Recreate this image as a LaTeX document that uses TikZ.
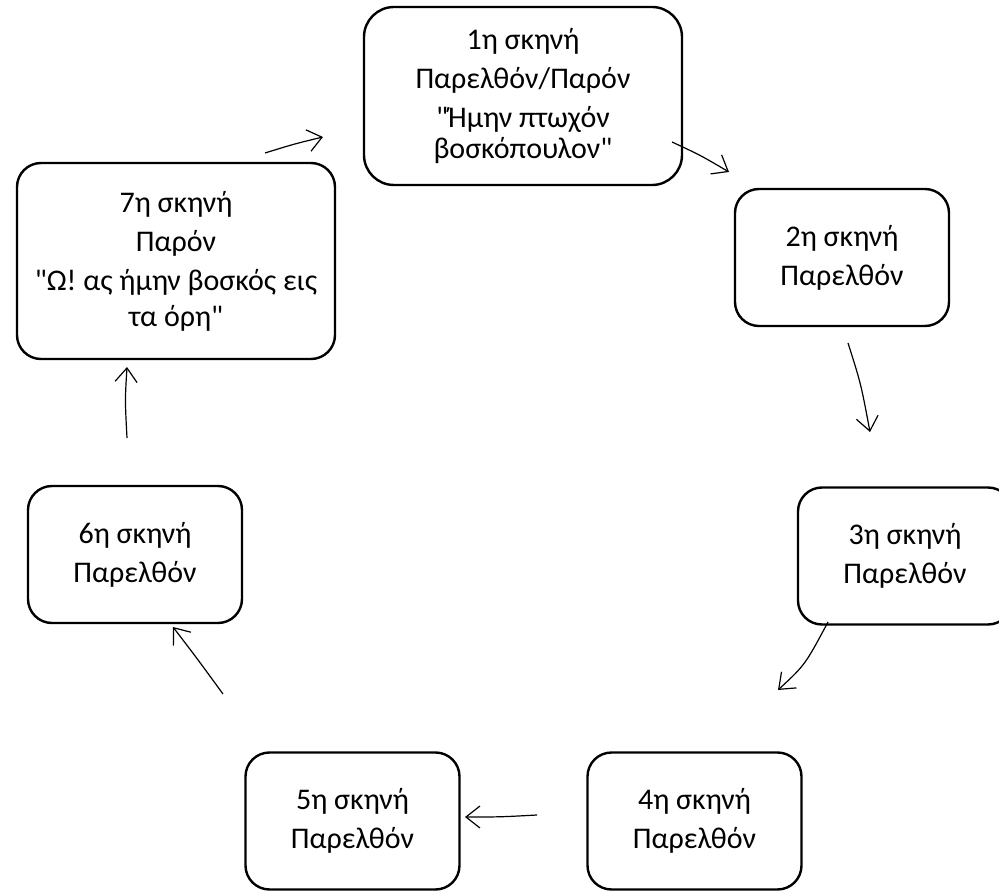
\documentclass[tikz,border=0pt]{standalone}
\usepackage{fontspec}
\setmainfont{Carlito}[Ligatures=TeXOff]
\usetikzlibrary{arrows.meta}
\definecolor{Ink}{HTML}{000000}
\definecolor{Paper}{HTML}{FFFFFF}
\tikzset{
    scene/.style={rectangle, rounded corners=24pt, draw=Ink, line width=2.4pt, fill=Paper, text=Ink, align=center, inner sep=0pt,
        font=\fontsize{30}{39}\selectfont, execute at begin node={\rule{0pt}{34pt}}},
    small/.style={scene, minimum width=214pt, minimum height=137pt},
    arrow/.style={-{Straight Barb[length=14pt, width=22pt]}, line width=1.2pt, color=Ink},
}
\begin{document}
\begin{tikzpicture}[x=1pt, y=-1pt]
    \useasboundingbox (0,0) rectangle (999,893);

    % 1η σκηνή
    \node[scene, rounded corners=30pt, minimum width=318pt, minimum height=178pt] (s1) at (523,96) {1η σκηνή\\Παρελθόν/Παρόν\\"Ήμην πτωχόν\\[-8pt]βοσκόπουλον"};
    % 2η - 6η σκηνή
    \node[small] (s2) at (842,257.5) {2η σκηνή\\Παρελθόν};
    \node[small] (s3) at (905,556) {3η σκηνή\\Παρελθόν};
    \node[small] (s4) at (694.5,821) {4η σκηνή\\Παρελθόν};
    \node[small] (s5) at (352.5,821) {5η σκηνή\\Παρελθόν};
    \node[small] (s6) at (135,554.5) {6η σκηνή\\Παρελθόν};
    % 7η σκηνή
    \node[scene, minimum width=318pt, minimum height=196pt] (s7) at (176,261) {7η σκηνή\\Παρόν\\"Ω! ας ήμην βοσκός εις\\[-3pt]τα όρη"};

    % arrow ends (free, not touching the boxes)
    \coordinate (a1s) at (672,142);  \coordinate (a1e) at (729,172);
    \coordinate (a2s) at (848,343);  \coordinate (a2e) at (870,432);
    \coordinate (a3s) at (828,622);  \coordinate (a3e) at (778,690);
    \coordinate (a4s) at (537,815);  \coordinate (a4e) at (465,817);
    \coordinate (a5s) at (223,694);  \coordinate (a5e) at (173,627);
    \coordinate (a6s) at (127,438);  \coordinate (a6e) at (127,367);
    \coordinate (a7s) at (265,153);  \coordinate (a7e) at (323,137);

    \draw[arrow] (a1s) .. controls (700,155) .. (a1e);
    \draw[arrow] (a2s) .. controls (861,384) .. (a2e);
    \draw[arrow] (a3s) .. controls (805,665) .. (a3e);
    \draw[arrow] (a4s) .. controls (500,817) .. (a4e);
    \draw[arrow] (a5s) .. controls (196,657) .. (a5e);
    \draw[arrow] (a6s) .. controls (125,400) .. (a6e);
    \draw[arrow] (a7s) .. controls (294,144) .. (a7e);
\end{tikzpicture}
\end{document}
